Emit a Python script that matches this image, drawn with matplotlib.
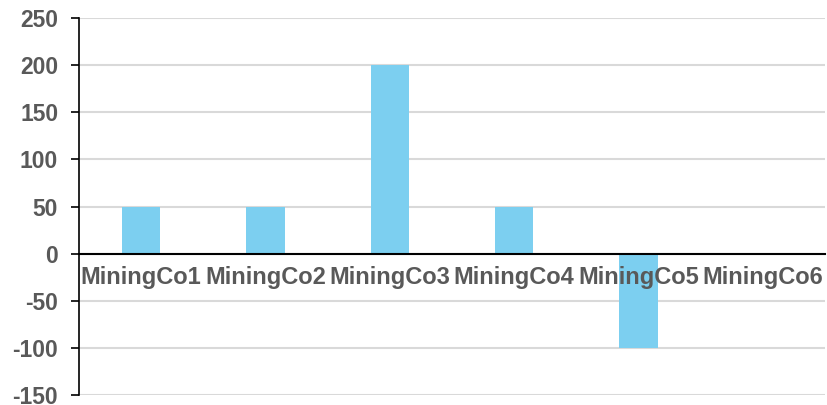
import matplotlib.pyplot as plt

# data
companies = ["MiningCo1", "MiningCo2", "MiningCo3", "MiningCo4", "MiningCo5", "MiningCo6"]
values = [50, 50, 200, 50, -100, 0]
y_ticks = [-150, -100, -50, 0, 50, 100, 150, 200, 250]

text_color = "#595959"
bar_color = "#7ccff0"

plt.rcParams["font.family"] = ["Liberation Sans", "DejaVu Sans"]

fig = plt.figure(figsize=(8.28, 4.05), dpi=100)
ax = fig.add_axes([79 / 828, 1 - 395 / 405, (825 - 79) / 828, (395 - 18) / 405])

x = range(len(companies))
ax.bar(x, values, width=0.31, color=bar_color, zorder=1)

# spine position first: moving it resets the tick labels
ax.spines["top"].set_visible(False)
ax.spines["right"].set_visible(False)
ax.spines["bottom"].set_position(("data", 0))
ax.spines["bottom"].set_linewidth(1.5)
ax.spines["bottom"].set_zorder(3)
ax.spines["left"].set_linewidth(1.2)

ax.set_xlim(-0.5, len(companies) - 0.5)
ax.set_ylim(-150, 250)
ax.set_yticks(y_ticks)
ax.set_yticklabels([str(v) for v in y_ticks], fontsize=16.5, fontweight="bold", color=text_color)
ax.set_xticks(list(x))
ax.set_xticklabels(companies, fontsize=17, fontweight="bold", color=text_color)

# grid under the bars, category labels over them
ax.grid(axis="y", color="#d9d9d9", linewidth=1.5)
ax.yaxis.set_zorder(0.5)
ax.xaxis.set_zorder(3)

ax.tick_params(axis="x", length=0, pad=9)
ax.tick_params(axis="y", length=6, width=1.2, direction="out", pad=9)

fig.savefig("out.png", dpi=100)
